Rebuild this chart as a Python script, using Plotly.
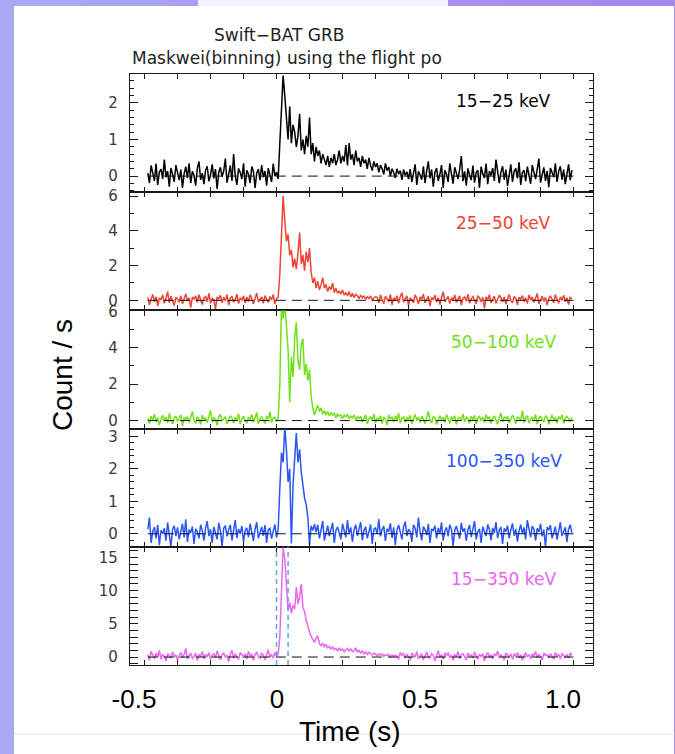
import plotly.graph_objects as go

# ---------------- figure geometry ----------------
W, H = 675, 754
ML, MR, MT, MB = 130, 82, 74, 89
PW, PH = W - ML - MR, H - MT - MB


def P(px, py):
    """pixel -> paper coordinates"""
    return (px - ML) / PW, (H - MB - py) / PH


# ---------------- data ----------------
T0 = -0.39      # start of first time bin (s)
BIN = 0.005     # bin width (s)

BAND_LABELS = ["15\u221225 keV", "25\u221250 keV", "50\u2212100 keV", "100\u2212350 keV", "15\u2212350 keV"]
COLORS = ["#000000", "#ee4433", "#6fe01a", "#2a55f5", "#ea66f0"]
Y_RANGES = [[-0.44, 2.79], [-0.58, 6.22], [-0.44, 6.05], [-0.40, 3.24], [-1.2, 16.6]]
Y_DTICK = [1, 2, 2, 1, 5]
Y_MINOR = [0.2, 1, 1, 0.2, 1]
X_TICK_LABELS = ["-0.5", "0", "0.5", "1.0"]
X_TICK_VALUES = [-0.5, 0.0, 0.5, 1.0]
INTERVAL_MARKS = [0.0, 0.035]

rate_15_25 = [
    0.08, -0.19, 0.29, 0.03, -0.13, 0.34, -0.24, 0.11, 0.19, -0.08,
    0.45, -0.03, 0.14, -0.29, 0.22, 0.05, -0.16, 0.3, 0.1, -0.11,
    0.18, -0.32, 0.06, 0.26, -0.05, 0.35, -0.19, 0.13, 0.02, -0.26,
    0.21, 0.4, -0.1, 0.08, -0.22, 0.16, 0.27, -0.14, 0.03, 0.32,
    -0.06, 0.19, -0.35, 0.11, 0.24, -0.02, 0.14, 0.48, -0.18, 0.06,
    0.29, -0.13, 0.6, 0.0, -0.24, 0.21, 0.1, -0.08, 0.35, -0.29,
    0.16, 0.05, -0.19, 0.26, 0.13, -0.32, 0.08, 0.19, -0.11, 0.3,
    -0.03, 0.14, -0.26, 0.22, 0.06, -0.16, 0.34, 0.0, 0.11, -0.08,
    0.9, 1.8, 2.75, 2.2, 1.6, 1.0, 1.9, 0.9, 1.4, 1.2,
    0.8, 1.1, 1.7, 0.7, 1.0, 0.6, 1.1, 0.8, 1.6, 0.6,
    0.9, 0.4, 0.8, 0.55, 0.7, 0.35, 0.6, 0.45, 0.3, 0.55,
    0.25, 0.5, 0.35, 0.6, 0.3, 0.45, 0.7, 0.35, 0.55, 0.4,
    0.85, 0.3, 0.9, 0.45, 0.6, 0.3, 0.7, 0.4, 0.5, 0.25,
    0.55, 0.35, 0.45, 0.2, 0.5, 0.3, 0.15, 0.4, 0.25, 0.35,
    0.1, 0.3, 0.2, 0.05, 0.35, 0.15, 0.25, 0.0, 0.2, 0.1,
    -0.05, 0.2, 0.05, 0.15, -0.1, 0.18, 0.02, 0.12, -0.08,
    0.19, -0.16, 0.08, 0.32, -0.24, 0.13, 0.03, -0.1, 0.27, -0.19,
    0.14, 0.4, -0.06, 0.18, -0.29, 0.1, 0.22, -0.13, 0.05, 0.3,
    -0.32, 0.16, 0.06, -0.16, 0.35, 0.0, -0.21, 0.24, 0.11, -0.08,
    0.19, 0.55, -0.14, 0.13, -0.26, 0.21, 0.03, -0.11, 0.29, -0.18,
    0.1, 0.16, -0.32, 0.26, 0.06, -0.05, 0.34, -0.22, 0.14, 0.02,
    0.22, -0.13, 0.45, 0.05, -0.19, 0.11, 0.27, -0.1, 0.18, -0.27,
    0.08, 0.32, -0.16, 0.13, 0.21, -0.06, 0.38, -0.24, 0.1, 0.16,
    -0.14, 0.26, 0.03, -0.21, 0.3, 0.11, -0.08, 0.19, 0.48, -0.18,
    0.06, 0.24, -0.13, 0.14, -0.3, 0.22, 0.1, -0.03, 0.35, -0.16,
    0.13, 0.27, -0.1, 0.18, -0.22, 0.08, 0.32, -0.11, 0.16,
]

rate_25_50 = [
    0.17, -0.26, 0.08, 0.34, -0.08, 0.2, -0.34, 0.14, 0.03, 0.31,
    -0.17, 0.1, 0.5, -0.14, 0.24, 0.0, -0.31, 0.17, 0.07, -0.1,
    0.27, -0.2, 0.12, 0.37, -0.03, 0.15, -0.42, 0.19, 0.05, 0.26,
    -0.12, 0.32, 0.02, -0.24, 0.14, 0.22, -0.07, 0.4, -0.17, 0.1,
    0.03, -0.5, 0.2, 0.08, 0.29, -0.14, 0.17, -0.03, 0.34, -0.27,
    0.12, 0.24, -0.1, 0.05, 0.36, -0.19, 0.15, 0.0, 0.26, -0.15,
    0.19, -0.07, 0.31, 0.1, -0.22, 0.14, 0.42, -0.08, 0.03, 0.2,
    -0.17, 0.27, 0.07, -0.12, 0.22, 0.02, 0.34, -0.2, 0.1, 0.17,
    1.5, 4.2, 6.0, 4.6, 3.4, 3.8, 2.6, 2.9, 1.9, 2.4,
    1.8, 2.7, 3.9, 2.1, 2.6, 1.7, 2.8, 2.2, 3.0, 1.6,
    1.0, 1.3, 0.7, 1.1, 0.6, 0.9, 1.3, 0.7, 0.9, 0.5,
    0.8, 0.6, 1.0, 0.45, 0.7, 0.4, 0.55, 0.35, 0.6, 0.3,
    0.45, 0.25, 0.5, 0.2, 0.4, 0.15, 0.35, 0.25, 0.1, 0.3,
    0.15, 0.25, 0.05, 0.2, 0.1, 0.25, 0.0, 0.15, 0.2,
    0.17, -0.14, 0.31, 0.03, -0.2, 0.24, 0.1, -0.08, 0.34, -0.26,
    0.14, 0.0, 0.27, -0.17, 0.2, 0.44, -0.1, 0.07, 0.26, -0.31,
    0.15, 0.03, -0.14, 0.32, 0.12, -0.22, 0.19, 0.05, 0.37, -0.15,
    0.08, 0.24, -0.34, 0.17, 0.02, 0.29, -0.1, 0.14, -0.24, 0.2,
    0.5, -0.07, 0.1, 0.22, -0.19, 0.15, 0.0, 0.31, -0.12, 0.07,
    0.26, -0.27, 0.12, 0.19, -0.05, 0.36, -0.17, 0.08, 0.22, 0.03,
    -0.2, 0.27, 0.14, -0.08, 0.17, -0.46, 0.2, 0.05, 0.32, -0.14,
    0.1, 0.24, -0.17, 0.03, 0.29, 0.15, -0.1, 0.19, -0.22, 0.08,
    0.34, 0.0, -0.15, 0.22, 0.12, -0.26, 0.17, 0.07, 0.27, -0.07,
    0.14, -0.19, 0.31, 0.02, 0.2, -0.12, 0.15, 0.39, -0.2, 0.08,
    0.24, -0.05, 0.17, -0.27, 0.12, 0.26, 0.03, -0.14, 0.32, 0.1,
    -0.17, 0.2, 0.0, 0.29, -0.08, 0.15, -0.24, 0.19, 0.07,
]

rate_50_100 = [
    0.13, -0.16, 0.24, 0.03, 0.35, -0.08, 0.16, -0.24, 0.08, 0.29,
    0.0, 0.19, -0.13, 0.4, 0.06, -0.19, 0.14, 0.26, -0.05, 0.11,
    0.32, -0.29, 0.18, 0.05, 0.22, -0.1, 0.16, 0.5, 0.0, -0.16,
    0.21, 0.1, -0.22, 0.3, 0.03, 0.13, -0.11, 0.24, 0.55, -0.06,
    0.16, 0.08, -0.26, 0.19, 0.35, -0.03, 0.11, 0.22, -0.18, 0.05,
    0.27, 0.14, -0.13, 0.18, 0.02, 0.38, -0.21, 0.1, 0.24, 0.0,
    -0.14, 0.19, 0.06, 0.32, -0.08, 0.16, 0.45, -0.19, 0.11, 0.21,
    0.03, -0.16, 0.26, 0.08, 0.48, -0.1, 0.14, 0.18, -0.05, 0.13,
    2.0, 6.3, 5.6, 6.4, 5.2, 3.9, 1.0, 3.5, 2.4, 4.5,
    5.4, 3.3, 2.8, 4.2, 4.5, 2.5, 3.1, 2.2, 2.8, 1.3,
    0.7, 0.3, 0.6, 0.85, 0.5, 0.7, 0.35, 0.55, 0.3, 0.5,
    0.25, 0.45, 0.3, 0.4, 0.15, 0.35, 0.25, 0.3, 0.1, 0.3,
    0.2, 0.35, 0.1, 0.25, 0.15, 0.3, 0.05, 0.2, 0.12,
    0.24, -0.08, 0.16, 0.32, -0.19, 0.1, 0.22, 0.0, 0.35, -0.13,
    0.14, 0.05, 0.27, -0.16, 0.19, 0.08, -0.24, 0.3, 0.11, 0.18,
    -0.06, 0.26, 0.03, 0.4, -0.14, 0.13, 0.21, -0.1, 0.16, 0.06,
    0.29, -0.19, 0.11, 0.34, 0.0, 0.19, -0.11, 0.24, 0.1, -0.18,
    0.14, 0.5, 0.05, -0.13, 0.22, 0.16, -0.21, 0.08, 0.27, 0.03,
    0.18, -0.1, 0.32, 0.13, -0.16, 0.21, 0.06, 0.26, -0.22, 0.11,
    0.16, 0.02, 0.37, -0.08, 0.19, 0.1, -0.14, 0.24, 0.05, 0.29,
    -0.19, 0.14, 0.22, 0.0, 0.18, -0.11, 0.32, 0.08, 0.21, -0.16,
    0.13, 0.26, 0.03, -0.21, 0.16, 0.42, -0.06, 0.19, 0.11, 0.24,
    -0.13, 0.05, 0.3, 0.1, -0.18, 0.22, 0.14, 0.02, 0.55, -0.1,
    0.16, 0.27, -0.14, 0.08, 0.19, 0.0, 0.34, -0.19, 0.13, 0.22,
    0.06, -0.08, 0.26, 0.16, -0.22, 0.11, 0.3, 0.03, 0.18, -0.13,
    0.21, 0.1, 0.32, -0.16, 0.14, 0.24, 0.05, -0.06, 0.19,
]

rate_100_350 = [
    0.14, 0.5, -0.28, 0.07, 0.21, -0.14, 0.28, -0.35, 0.11, 0.0,
    0.17, -0.21, 0.35, 0.04, -0.4, 0.14, 0.25, -0.07, 0.2, -0.17,
    0.08, 0.31, -0.11, 0.45, -0.25, 0.13, 0.03, 0.22, -0.31, 0.15,
    0.06, -0.14, 0.28, 0.1, -0.21, 0.18, 0.39, -0.07, 0.14, -0.28,
    0.21, 0.01, -0.17, 0.34, 0.08, -0.39, 0.17, 0.25, -0.08, 0.13,
    0.28, -0.2, 0.07, 0.42, -0.13, 0.15, 0.0, 0.24, -0.25, 0.11,
    0.18, -0.1, 0.31, 0.06, -0.22, 0.14, 0.36, -0.14, 0.08, 0.21,
    -0.06, 0.27, -0.28, 0.13, 0.17, -0.15, 0.07, 0.29, -0.11, 0.14,
    1.4, 2.5, 2.2, 3.3, 2.6, 1.6, 2.0, -0.3, 1.5, 2.4,
    3.1, 2.2, 2.6, 1.9, 1.4, 1.1, 0.9, 0.5, -0.35, 0.25,
    0.1, 0.3, 0.05,
    0.28, -0.14, 0.17, 0.39, -0.21, 0.08, 0.25, -0.07, 0.14, 0.34,
    -0.28, 0.11, 0.21, 0.03, -0.17, 0.31, 0.07, -0.11, 0.42, 0.0,
    0.2, -0.25, 0.13, 0.28, -0.06, 0.17, 0.36, -0.2, 0.1, 0.22,
    -0.14, 0.06, 0.29, -0.31, 0.14, 0.18, 0.0, 0.45, -0.08, 0.13,
    0.24, -0.22, 0.15, 0.07, 0.32, -0.13, 0.2, -0.35, 0.11, 0.27,
    0.03, -0.17, 0.21, 0.38, -0.07, 0.14, 0.08, -0.25, 0.28, 0.17,
    -0.11, 0.5, 0.06, -0.2, 0.22, 0.13, -0.04, 0.31, -0.28, 0.15,
    0.1, 0.25, -0.14, 0.18, 0.0, 0.35, -0.21, 0.08, 0.2, -0.08,
    0.28, 0.14, -0.38, 0.11, 0.24, 0.04, -0.15, 0.34, 0.07, 0.17,
    -0.22, 0.13, 0.27, -0.1, 0.2, 0.39, -0.17, 0.06, 0.15, -0.28,
    0.22, 0.08, -0.07, 0.29, 0.14, -0.2, 0.18, 0.03, 0.36, -0.13,
    0.11, 0.21, -0.31, 0.17, 0.07, 0.25, -0.14, 0.13, 0.32, -0.06,
    0.15, -0.24, 0.1, 0.28, 0.0, 0.2, -0.17, 0.42, 0.08, -0.11,
    0.24, 0.14, -0.21, 0.17, 0.06, 0.31, -0.08, 0.13, -0.4, 0.21,
    0.11, 0.27, -0.14, 0.04, 0.22, -0.18, 0.15, 0.35, -0.07, 0.1,
    0.2, -0.25, 0.14, 0.28, 0.03,
]

rate_15_350 = [
    0.34, -0.5, 0.85, 0.17, -0.26, 0.6, 0.0, 1.0, -0.34, 0.42,
    0.08, -0.6, 0.5, 0.26, -0.17, 0.76, 0.0, 0.34, -0.42, 0.17,
    0.68, -0.08, 0.42, 1.3, -0.34, 0.26, 0.5, -0.17, 0.08, 0.6,
    -0.5, 0.34, 0.17, 0.85, -0.26, 0.42, 0.0, 0.68, -0.34, 0.26,
    0.5, -0.08, 0.92, 0.17, -0.42, 0.34, 0.6, 0.0, 0.26, -0.68,
    0.42, 1.0, -0.17, 0.5, 0.08, -0.34, 0.68, 0.26, 0.0, 0.5,
    -0.26, 0.85, 0.17, 0.42, -0.5, 0.34, 0.76, 0.08, -0.17, 0.6,
    0.26, -0.42, 0.5, 1.1, 0.0, 0.34, -0.17, 0.68, 0.17, 0.42,
    3.0, 11.0, 16.5, 14.8, 11.5, 7.0, 8.2, 6.6, 7.8, 7.2,
    10.5, 8.0, 9.0, 11.0, 7.5, 6.8, 5.5, 4.4, 3.8, 3.1,
    2.6, 2.2, 2.9, 3.2, 2.0, 1.7, 2.1, 1.5, 1.9, 1.4,
    1.6, 1.2, 1.5, 1.1, 1.3, 0.9, 1.4, 1.0, 1.2, 0.8,
    1.1, 1.3, 0.9, 1.2, 0.8, 1.0, 1.4, 0.7, 1.0, 0.6,
    0.9, 0.5, 0.8, 0.4, 0.7, 0.5, 0.3, 0.6, 0.4, 0.2,
    0.5, 0.3, 0.45, 0.1, 0.35, 0.25, 0.4, 0.0, 0.3, 0.15,
    0.25,
    0.17, -0.34, 0.68, 0.26, 0.5, -0.17, 0.42, 0.08, -0.5, 0.6,
    0.34, 0.0, 0.85, -0.26, 0.17, 0.5, -0.42, 0.34, 0.76, 0.08,
    -0.17, 0.5, 0.26, -0.6, 0.42, 1.0, 0.0, 0.34, -0.34, 0.6,
    0.17, 0.68, -0.08, 0.26, -0.5, 0.42, 0.08, 0.85, -0.26, 0.34,
    0.5, 0.0, -0.42, 0.6, 0.17, 0.34, -0.17, 0.76, 0.26, -0.34,
    0.42, 0.08, 0.5, -0.6, 0.26, 0.68, 0.0, 0.34, -0.26, 0.5,
    0.17, 0.92, -0.17, 0.34, 0.08, -0.42, 0.6, 0.26, 0.0, 0.5,
    -0.34, 0.42, 0.17, 0.68, -0.08, 0.34, -0.5, 0.26, 0.6, 0.08,
    0.34, -0.26, 0.5, 0.17, 0.85, -0.17, 0.42, 0.0, -0.42, 0.6,
    0.26, 0.34, -0.08, 0.5, 0.17, -0.34, 0.68, 0.08, 0.42, -0.26,
    0.5, 0.17, 0.0, 0.34, -0.17, 0.6, 0.26,
]

SERIES = [rate_15_25, rate_25_50, rate_50_100, rate_100_350, rate_15_350]

# ---------------- figure ----------------
fig = go.Figure()
N = len(SERIES)
x_lo, x_hi = -0.444, 0.959
data_end = T0 + BIN * (max(len(s) for s in SERIES))
domains = [[1 - (k + 1) / N, 1 - k / N] for k in range(N)]

FRAME = "#1a1a1a"
TICKFONT = dict(family="DejaVu Sans", size=15, color="#3a3a3a")
LABEL_Y = [0.77, 0.737, 0.735, 0.723, 0.731]


def sfx(n):
    return "" if n == 1 else str(n)


for k, vals in enumerate(SERIES):
    n = k + 1
    s = sfx(n)
    xs = [T0 + BIN * i for i in range(len(vals))]
    fig.add_trace(go.Scatter(
        x=xs, y=vals, mode="lines", line=dict(color=COLORS[k], width=1.5),
        xaxis=f"x{s}", yaxis=f"y{s}", showlegend=False, hoverinfo="skip"))

    fig.layout[f"xaxis{s}"] = dict(
        domain=[0, 1], anchor=f"y{s}", range=[x_lo, x_hi],
        tickmode="linear", tick0=-0.4, dtick=0.1, ticks="inside", ticklen=5,
        tickcolor=FRAME, showticklabels=False, showline=True, linecolor=FRAME,
        linewidth=1.2, mirror="allticks", showgrid=False, zeroline=False)
    fig.layout[f"yaxis{s}"] = dict(
        domain=domains[k], anchor=f"x{s}", range=Y_RANGES[k],
        tickmode="linear", tick0=0, dtick=Y_DTICK[k], ticks="inside", ticklen=8,
        tickcolor=FRAME, showline=True, linecolor=FRAME, linewidth=1.2,
        mirror="allticks", showgrid=False, zeroline=False, tickfont=TICKFONT,
        ticklabelstandoff=8,
        minor=dict(ticks="inside", ticklen=4, tick0=0, dtick=Y_MINOR[k], tickcolor=FRAME, showgrid=False))

    # dashed zero line
    fig.add_shape(type="line", xref=f"x{s}", yref=f"y{s}", x0=T0, x1=data_end, y0=0, y1=0,
                  line=dict(color="#111111", width=1, dash="10px,6px"))
    # band label
    fig.add_annotation(text=BAND_LABELS[k], xref=f"x{s} domain", yref=f"y{s} domain",
                       x=0.807, y=LABEL_Y[k], xanchor="center", yanchor="middle", showarrow=False,
                       font=dict(family="DejaVu Sans", size=17, color=COLORS[k]))

last = sfx(N)
# interval markers on the summed panel
for xv in INTERVAL_MARKS:
    fig.add_shape(type="line", xref=f"x{last}", yref=f"y{last} domain", x0=xv, x1=xv, y0=0, y1=1,
                  line=dict(color="#5ea4f2", width=1.5, dash="5px,4px"))

# slide-style time labels on an overlaid axis (0.5 s per 143 px)
fig.add_trace(go.Scatter(x=[None], y=[None], xaxis="x6", yaxis=f"y{last}", showlegend=False, hoverinfo="skip"))
fig.layout["xaxis6"] = dict(
    overlaying=f"x{last}", anchor=f"y{last}", side="bottom",
    range=[(ML - 277) / 286, (W - MR - 277) / 286],
    tickmode="array", tickvals=X_TICK_VALUES, ticktext=X_TICK_LABELS,
    ticks="", showline=False, showgrid=False, zeroline=False,
    tickfont=dict(family="Liberation Sans", size=26, color="#000000"),
    ticklabelstandoff=16)


# ---------------- slide background ----------------
def rect(px0, py0, px1, py1, color):
    a0, b1 = P(px0, py0)
    a1, b0 = P(px1, py1)
    fig.add_shape(type="rect", xref="paper", yref="paper", x0=a0, x1=a1, y0=b0, y1=b1,
                  line=dict(width=0), fillcolor=color, layer="below")


rect(0, 0, 14, H, "#aaa7f3")
top_cols = ["#aaa8f4", "#a9a3f4", "#a89ef3", "#a799f3", "#a694f2", "#a590f2", "#a48cf1", "#a388f1"]
seg = W / len(top_cols)
for i, c in enumerate(top_cols):
    rect(i * seg, 0, (i + 1) * seg + 1, 6, c)
rect(198, 0, 448, 6, "#f4f2fd")
rect(674, 0, W, H, "#a48cf1")
gx0, gy = P(14, 734)
gx1, _ = P(W, 734)
fig.add_shape(type="line", xref="paper", yref="paper", x0=gx0, x1=gx1, y0=gy, y1=gy,
              line=dict(color="#e4e4e4", width=1), layer="below")

# ---------------- titles ----------------
tx, ty = P(279, 35)
fig.add_annotation(text="Swift\u2212BAT GRB", xref="paper", yref="paper", x=tx, y=ty,
                   showarrow=False, xanchor="center", yanchor="middle",
                   font=dict(family="DejaVu Sans", size=17, color="#222222"))
tx, ty = P(130, 58)
fig.add_annotation(text="Maskwei(binning) using the flight po", xref="paper", yref="paper", x=tx, y=ty,
                   showarrow=False, xanchor="left", yanchor="middle",
                   font=dict(family="DejaVu Sans", size=17, color="#222222"))
tx, ty = P(63, 375)
fig.add_annotation(text="Count / s", xref="paper", yref="paper", x=tx, y=ty, textangle=-90,
                   showarrow=False, xanchor="center", yanchor="middle",
                   font=dict(family="Liberation Sans", size=28, color="#000000"))
tx, ty = P(350, 731)
fig.add_annotation(text="Time (s)", xref="paper", yref="paper", x=tx, y=ty,
                   showarrow=False, xanchor="center", yanchor="middle",
                   font=dict(family="Liberation Sans", size=28, color="#000000"))

fig.update_layout(
    width=W, height=H, autosize=False,
    margin=dict(l=ML, r=MR, t=MT, b=MB),
    paper_bgcolor="#ffffff", plot_bgcolor="#ffffff",
    showlegend=False,
)

fig.write_html("out.html", config={"displayModeBar": False})
